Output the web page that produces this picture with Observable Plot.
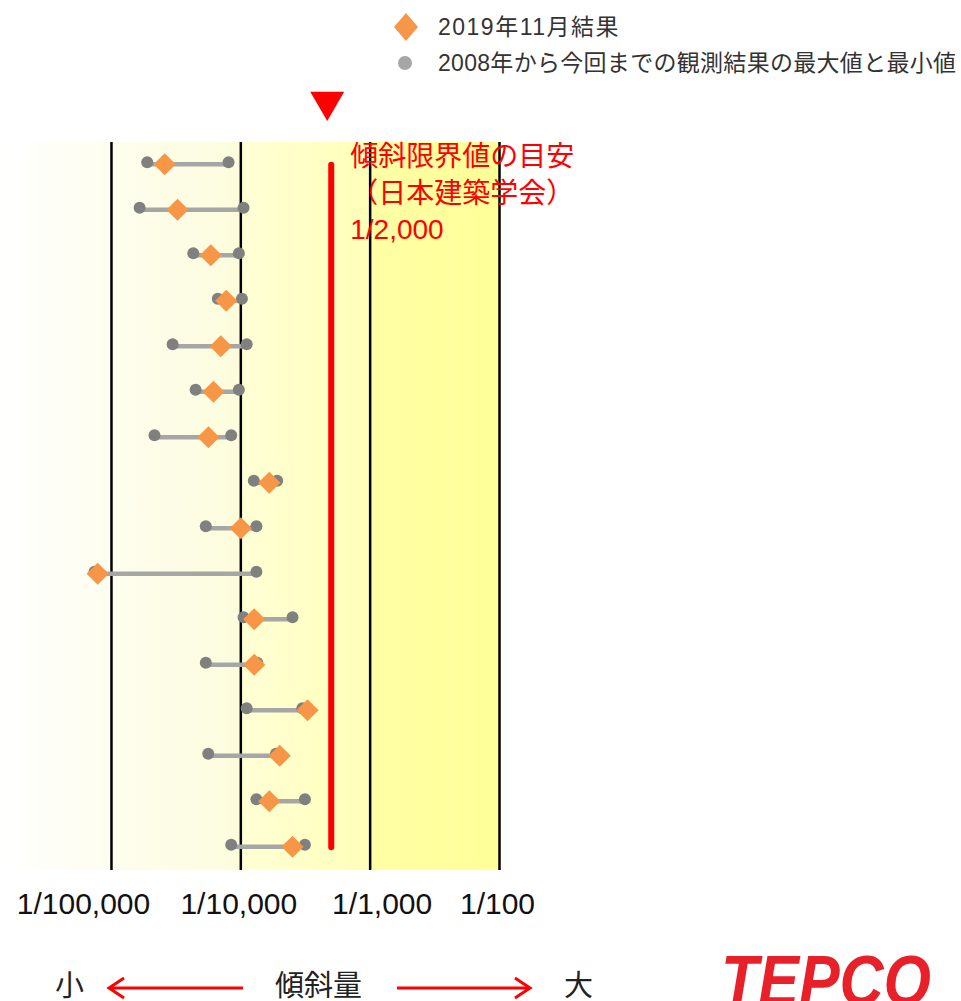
<!DOCTYPE html>
<html><head><meta charset="utf-8">
<script src="https://cdn.jsdelivr.net/npm/d3@7"></script>
<script src="https://cdn.jsdelivr.net/npm/@observablehq/plot@0.6"></script>
<style>
body{margin:0;background:#fff;font-family:"Liberation Sans","Noto Sans CJK JP",sans-serif;}
#page{position:relative;width:961px;height:1001px;overflow:hidden;}
#legend{position:relative;height:85px;}
.li{position:absolute;display:flex;align-items:center;height:30px;line-height:30px;font-size:23px;color:#333;white-space:nowrap;}
#chart{position:relative;height:860px;}
.bt{position:absolute;top:970px;font-family:"Noto Sans CJK JP",sans-serif;font-size:29px;line-height:26px;height:26px;color:#222;white-space:nowrap;}
.arr{position:absolute;top:975px;}
#logo{position:absolute;left:0;top:940px;}
</style></head>
<body><div id="page">
<div id="legend"></div>
<div id="chart"></div>
<div id="bottom"></div>
</div>
<script>
// ---- data ----
const rows = [1,2,3,4,5,6,7,8,9,10,11,12,13,14,15,16];
const minVals = [1.89e-5,1.65e-5,4.29e-5,6.64e-5,2.97e-5,4.47e-5,2.15e-5,1.26e-4,5.36e-5,7.4e-6,1.05e-4,5.36e-5,1.11e-4,5.60e-5,1.32e-4,8.43e-5];
const maxVals = [8.04e-5,1.05e-4,9.66e-5,1.02e-4,1.11e-4,9.66e-5,8.43e-5,1.91e-4,1.32e-4,1.32e-4,2.51e-4,1.34e-4,2.99e-4,1.87e-4,3.13e-4,3.13e-4];
const currVals = [2.58e-5,3.24e-5,5.86e-5,7.71e-5,7.0e-5,6.15e-5,5.62e-5,1.66e-4,1.0e-4,7.83e-6,1.27e-4,1.27e-4,3.28e-4,2.0e-4,1.66e-4,2.51e-4];
const tickValues = [1e-5, 1e-4, 1e-3, 1e-2];
const tickLabels = ["1/100,000", "1/10,000", "1/1,000", "1/100"];
const limitValue = 1/2000;
const limitText = "傾斜限界値の目安\n（日本建築学会）\n1/2,000";
const legendLabels = ["2019年11月結果", "2008年から今回までの観測結果の最大値と最小値"];
const bottomLabels = ["小", "傾斜量", "大"];
const logoText = "TEPCO";
const xMin = Math.pow(10, -5.858);
const xMax = 1e-2;
// background zones: [x1, x2, gradient id]
const zones = [[xMin, 1e-4, "gA"], [1e-4, 1e-3, "gB"], [1e-3, 1e-2, "gC"]];

const data = rows.map((r, i) => ({row: r, min: minVals[i], max: maxVals[i], cur: currVals[i]}));
const zoneData = zones.map(([x1, x2, id]) => ({x1, x2, id}));
const labelOf = v => tickLabels[tickValues.indexOf(v)];

// ---- legend ----
const legend = d3.select("#legend");
const l1 = legend.append("div").attr("class", "li").style("left", "392px").style("top", "12px");
l1.append("svg").attr("width", 28).attr("height", 30)
  .append("polygon").attr("points", "14,1 26,15 14,29 2,15").attr("fill", "#f79646");
l1.append("span").style("margin-left", "18px").style("letter-spacing", "1.5px").text(legendLabels[0]);
const l2 = legend.append("div").attr("class", "li").style("left", "392px").style("top", "48px");
l2.append("svg").attr("width", 28).attr("height", 30)
  .append("circle").attr("cx", 13).attr("cy", 15).attr("r", 7).attr("fill", "#a6a6a6");
l2.append("span").style("margin-left", "18px").style("letter-spacing", "0.3px").text(legendLabels[1]);

// ---- gradients ----
const defs = () => {
  const d = d3.create("svg:defs");
  const grads = {gA: ["#ffffff", "#fcfcdc"], gB: ["#ffffd6", "#ffffb8"], gC: ["#ffffa6", "#ffff98"]};
  for (const [id, [c0, c1]] of Object.entries(grads)) {
    const g = d.append("linearGradient").attr("id", id).attr("x1", 0).attr("x2", 1).attr("y1", 0).attr("y2", 0);
    g.append("stop").attr("offset", 0).attr("stop-color", c0);
    g.append("stop").attr("offset", 1).attr("stop-color", c1);
  }
  return d.node();
};

const axisCommon = {tickSize: 0, tickPadding: 22, fontSize: 30, tickFormat: labelOf, label: null, color: "#111"};

const plot = Plot.plot({
  width: 961,
  height: 860,
  marginLeft: 0,
  marginRight: 462,
  marginTop: 57,
  marginBottom: 75,
  style: {fontFamily: '"Liberation Sans","Noto Sans CJK JP",sans-serif', overflow: "visible", background: "transparent"},
  x: {type: "log", domain: [xMin, xMax]},
  y: {domain: [0.5, 16.5], reverse: true, axis: null},
  marks: [
    defs,
    Plot.rect(zoneData, {x1: "x1", x2: "x2", fill: d => `url(#${d.id})`}),
    Plot.ruleX(tickValues, {stroke: "#000", strokeWidth: 2.5}),
    Plot.ruleX([limitValue], {y1: rows[0], y2: rows[rows.length - 1], stroke: "#ff0000", strokeWidth: 6, strokeLinecap: "round"}),
    Plot.ruleY(data, {y: "row", x1: "min", x2: "max", stroke: "#a6a6a6", strokeWidth: 4.5, dy: -1}),
    Plot.dot(data, {x: "min", y: "row", r: 6, fill: "#808080", dy: -3}),
    Plot.dot(data, {x: "max", y: "row", r: 6, fill: "#808080", dy: -3}),
    Plot.dot(data, {x: "cur", y: "row", r: 10, symbol: "diamond2", fill: "#f79646", dy: -1}),
    Plot.dot([limitValue], {x: d => d, frameAnchor: "top", dy: -41, dx: -4, symbol: "triangle", r: 12.6, rotate: 180, fill: "#ff0000"}),
    Plot.text([limitText], {x: limitValue, text: d => d, frameAnchor: "top", lineAnchor: "top", textAnchor: "start", dx: 19, dy: -2, fill: "#ff0000", fontSize: 28, lineHeight: 1.3}),
    Plot.axisX({...axisCommon, ticks: [tickValues[0]], dx: -28}),
    Plot.axisX({...axisCommon, ticks: [tickValues[1], tickValues[3]], dx: -2}),
    Plot.axisX({...axisCommon, ticks: [tickValues[2]], dx: 12})
  ]
});
document.getElementById("chart").appendChild(plot);

// ---- bottom direction labels ----
const bottom = d3.select("#bottom");
bottom.append("div").attr("class", "bt").style("left", "55px").text(bottomLabels[0]);
bottom.append("div").attr("class", "bt").style("left", "275px").text(bottomLabels[1]);
bottom.append("div").attr("class", "bt").style("left", "564px").text(bottomLabels[2]);
const a1 = bottom.append("svg").attr("class", "arr").style("left", "100px").attr("width", 150).attr("height", 26);
a1.append("line").attr("x1", 9).attr("x2", 143).attr("y1", 13).attr("y2", 13).attr("stroke", "#ff0000").attr("stroke-width", 3);
a1.append("polyline").attr("points", "24,3 9,13 24,23").attr("fill", "none").attr("stroke", "#ff0000").attr("stroke-width", 3);
const a2 = bottom.append("svg").attr("class", "arr").style("left", "390px").attr("width", 150).attr("height", 26);
a2.append("line").attr("x1", 7).attr("x2", 140).attr("y1", 13).attr("y2", 13).attr("stroke", "#ff0000").attr("stroke-width", 3);
a2.append("polyline").attr("points", "125,3 140,13 125,23").attr("fill", "none").attr("stroke", "#ff0000").attr("stroke-width", 3);

// ---- logo ----
const logo = bottom.append("svg").attr("id", "logo").attr("width", 961).attr("height", 70);
logo.append("text").attr("x", 721).attr("y", 65).attr("font-family", '"Liberation Sans",sans-serif')
  .attr("font-size", 70).attr("font-weight", "bold").attr("font-style", "italic")
  .attr("fill", "#e8202a").attr("textLength", 210).attr("lengthAdjust", "spacingAndGlyphs").text(logoText);
</script>
</body></html>
